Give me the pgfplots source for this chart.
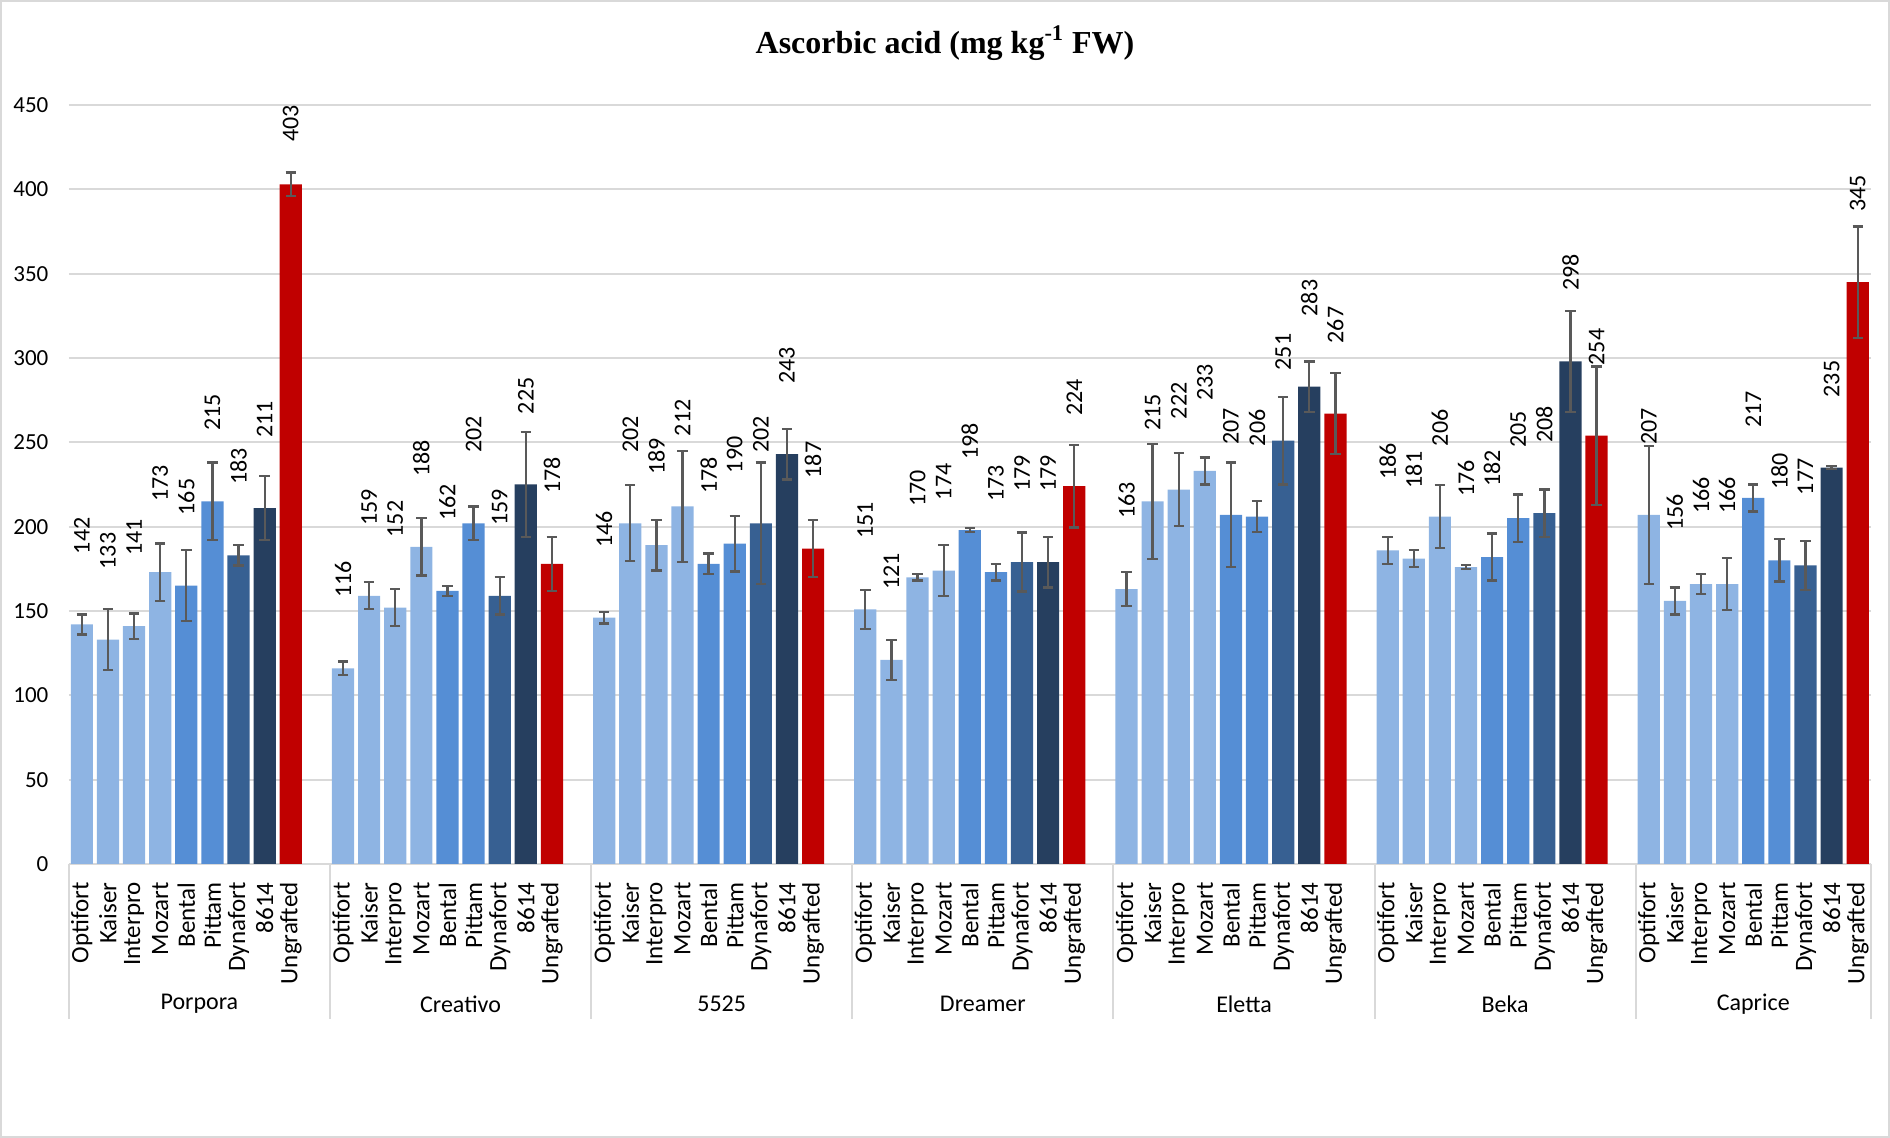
\documentclass[border=0pt]{standalone}
\usepackage{pgfplots}
\pgfplotsset{compat=1.18}
\usepackage{pgfplotstable}
\usepackage{fontspec}
\setmainfont{Carlito}
\newfontfamily\tnr{Liberation Serif}
\definecolor{cLight}{HTML}{8EB4E3}
\definecolor{cMed}{HTML}{558ED5}
\definecolor{cDyna}{HTML}{376092}
\definecolor{cDark}{HTML}{263F5F}
\definecolor{cRed}{HTML}{C00000}
\definecolor{cGrid}{HTML}{D9D9D9}
\definecolor{cErr}{HTML}{595959}

% g = cultivar group (0 Porpora, 1 Creativo, 2 5525, 3 Dreamer, 4 Eletta, 5 Beka, 6 Caprice)
\pgfplotstableread{
g y e
0 142 6
1 116 4
2 146 3.5
3 151 11.5
4 163 10
5 186 8
6 207 41
}\optifort
\pgfplotstableread{
g y e
0 133 18
1 159 8
2 202 22.5
3 121 12
4 215 34
5 181 5
6 156 8
}\kaiser
\pgfplotstableread{
g y e
0 141 7.5
1 152 11
2 189 15
3 170 2
4 222 21.5
5 206 18.5
6 166 6
}\interpro
\pgfplotstableread{
g y e
0 173 17
1 188 17
2 212 33
3 174 15
4 233 8
5 176 1.3
6 166 15.5
}\mozart
\pgfplotstableread{
g y e
0 165 21
1 162 3
2 178 6
3 198 1.2
4 207 31
5 182 14
6 217 8
}\bental
\pgfplotstableread{
g y e
0 215 23
1 202 10
2 190 16.5
3 173 5
4 206 9.3
5 205 14
6 180 12.5
}\pittam
\pgfplotstableread{
g y e
0 183 6
1 159 11
2 202 36
3 179 17.5
4 251 26
5 208 14
6 177 14.5
}\dynafort
\pgfplotstableread{
g y e
0 211 19
1 225 31
2 243 15
3 179 15
4 283 15
5 298 30
6 235 1
}\eightsix
\pgfplotstableread{
g y e
0 403 7
1 178 16
2 187 17
3 224 24.5
4 267 24
5 254 41
6 345 33
}\ungrafted

\pgfplotsset{
  barstyle/.style={ybar, bar width=0.85, bar shift=0pt, draw=none, fill=#1,
    /pgfplots/error bars/y dir=both,
    /pgfplots/error bars/y explicit,
    /pgfplots/error bars/error bar style={line width=1.15pt, cErr},
    /pgfplots/error bars/error mark options={rotate=90, mark size=2.6pt, line width=1.15pt, cErr}},
  labstyle/.style={draw=none, mark=none, nodes near coords, point meta=explicit,
    every node near coord/.style={rotate=90, anchor=west, inner sep=0pt,
      font=\fontsize{12}{14}\selectfont, text=black}},
}

\begin{document}
\begin{tikzpicture}
\draw[cGrid, line width=1pt] (0.5pt,0.5pt) rectangle (944.5pt,568.5pt);
\node[font=\tnr\bfseries\fontsize{16}{18}\selectfont] at (472.5pt,547.5pt)
  {Ascorbic acid (mg kg\textsuperscript{-1} FW)};
\begin{axis}[
  at={(34.4pt,137pt)}, anchor=south west,
  scale only axis, width=901pt, height=379.5pt,
  xmin=0, xmax=69, ymin=0, ymax=450,
  ytick={0,50,...,450},
  axis line style={draw=none},
  major tick length=0pt,
  ymajorgrids, grid style={cGrid, line width=0.9pt},
  /pgf/number format/assume math mode=true,
  ticklabel style={font=\fontsize{11.5}{13}\selectfont},
  yticklabel style={inner sep=0pt, anchor=east},
  yticklabel shift=10pt,
  xtick={0.5,1.5,2.5,3.5,4.5,5.5,6.5,7.5,8.5,
         10.5,11.5,12.5,13.5,14.5,15.5,16.5,17.5,18.5,
         20.5,21.5,22.5,23.5,24.5,25.5,26.5,27.5,28.5,
         30.5,31.5,32.5,33.5,34.5,35.5,36.5,37.5,38.5,
         40.5,41.5,42.5,43.5,44.5,45.5,46.5,47.5,48.5,
         50.5,51.5,52.5,53.5,54.5,55.5,56.5,57.5,58.5,
         60.5,61.5,62.5,63.5,64.5,65.5,66.5,67.5,68.5},
  xticklabels={Optifort,Kaiser,Interpro,Mozart,Bental,Pittam,Dynafort,8614,Ungrafted,
               Optifort,Kaiser,Interpro,Mozart,Bental,Pittam,Dynafort,8614,Ungrafted,
               Optifort,Kaiser,Interpro,Mozart,Bental,Pittam,Dynafort,8614,Ungrafted,
               Optifort,Kaiser,Interpro,Mozart,Bental,Pittam,Dynafort,8614,Ungrafted,
               Optifort,Kaiser,Interpro,Mozart,Bental,Pittam,Dynafort,8614,Ungrafted,
               Optifort,Kaiser,Interpro,Mozart,Bental,Pittam,Dynafort,8614,Ungrafted,
               Optifort,Kaiser,Interpro,Mozart,Bental,Pittam,Dynafort,8614,Ungrafted},
  xticklabel style={rotate=90, anchor=east, inner sep=0pt, font=\fontsize{12.5}{14}\selectfont},
  xticklabel shift=9pt,
  clip=false,
]
\addplot[barstyle=cLight] table[x expr=10*\thisrow{g}+0.5, y=y, y error=e] {\optifort};
\addplot[barstyle=cLight] table[x expr=10*\thisrow{g}+1.5, y=y, y error=e] {\kaiser};
\addplot[barstyle=cLight] table[x expr=10*\thisrow{g}+2.5, y=y, y error=e] {\interpro};
\addplot[barstyle=cLight] table[x expr=10*\thisrow{g}+3.5, y=y, y error=e] {\mozart};
\addplot[barstyle=cMed] table[x expr=10*\thisrow{g}+4.5, y=y, y error=e] {\bental};
\addplot[barstyle=cMed] table[x expr=10*\thisrow{g}+5.5, y=y, y error=e] {\pittam};
\addplot[barstyle=cDyna] table[x expr=10*\thisrow{g}+6.5, y=y, y error=e] {\dynafort};
\addplot[barstyle=cDark] table[x expr=10*\thisrow{g}+7.5, y=y, y error=e] {\eightsix};
\addplot[barstyle=cRed] table[x expr=10*\thisrow{g}+8.5, y=y, y error=e] {\ungrafted};

\addplot[labstyle] table[x expr=10*\thisrow{g}+0.5, y expr={min(\thisrow{y}+41.5,428)}, meta=y] {\optifort};
\addplot[labstyle] table[x expr=10*\thisrow{g}+1.5, y expr={min(\thisrow{y}+41.5,428)}, meta=y] {\kaiser};
\addplot[labstyle] table[x expr=10*\thisrow{g}+2.5, y expr={min(\thisrow{y}+41.5,428)}, meta=y] {\interpro};
\addplot[labstyle] table[x expr=10*\thisrow{g}+3.5, y expr={min(\thisrow{y}+41.5,428)}, meta=y] {\mozart};
\addplot[labstyle] table[x expr=10*\thisrow{g}+4.5, y expr={min(\thisrow{y}+41.5,428)}, meta=y] {\bental};
\addplot[labstyle] table[x expr=10*\thisrow{g}+5.5, y expr={min(\thisrow{y}+41.5,428)}, meta=y] {\pittam};
\addplot[labstyle] table[x expr=10*\thisrow{g}+6.5, y expr={min(\thisrow{y}+41.5,428)}, meta=y] {\dynafort};
\addplot[labstyle] table[x expr=10*\thisrow{g}+7.5, y expr={min(\thisrow{y}+41.5,428)}, meta=y] {\eightsix};
\addplot[labstyle] table[x expr=10*\thisrow{g}+8.5, y expr={min(\thisrow{y}+41.5,428)}, meta=y] {\ungrafted};

\pgfplotsinvokeforeach{0,10,20,30,40,50,60,69}{
  \draw[cGrid, line width=1pt] (axis cs:#1,0) -- ++(0,-77.5pt);
}
\node[font=\fontsize{12}{14}\selectfont] at (axis cs:5,0) [yshift=-70pt] {Porpora};
\node[font=\fontsize{12}{14}\selectfont] at (axis cs:15,0) [yshift=-70pt] {Creativo};
\node[font=\fontsize{12}{14}\selectfont] at (axis cs:25,0) [yshift=-70pt] {5525};
\node[font=\fontsize{12}{14}\selectfont] at (axis cs:35,0) [yshift=-70pt] {Dreamer};
\node[font=\fontsize{12}{14}\selectfont] at (axis cs:45,0) [yshift=-70pt] {Eletta};
\node[font=\fontsize{12}{14}\selectfont] at (axis cs:55,0) [yshift=-70pt] {Beka};
\node[font=\fontsize{12}{14}\selectfont] at (axis cs:64.5,0) [yshift=-70pt] {Caprice};
\end{axis}
\pgfresetboundingbox
\path (0,0) rectangle (945pt,569pt);
\end{tikzpicture}
\end{document}
